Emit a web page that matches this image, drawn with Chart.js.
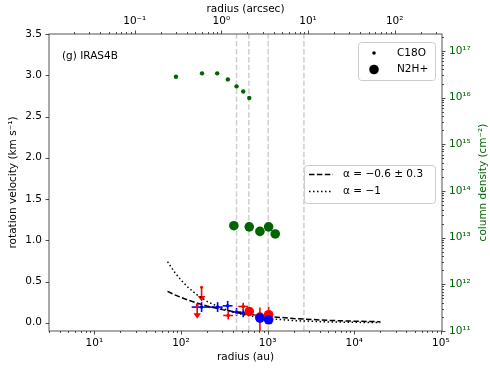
<!DOCTYPE html>
<html><head><meta charset="utf-8">
<script src="https://cdn.jsdelivr.net/npm/chart.js@4/dist/chart.umd.min.js"></script>
<style>html,body{margin:0;padding:0;background:#fff;}#wrap{width:490px;height:368px;position:relative;}</style>
</head><body><div id="wrap"><canvas id="c" width="490" height="368"></canvas></div>
<script>
// ---------- data ----------
const AU_PER_ARCSEC = 293;
// model curves (alpha = -0.6 dashed, alpha = -1 dotted)
const fitR = [70, 85, 100, 120, 150, 200, 300, 500, 700, 1000, 2000, 5000, 10000, 20000];
const fitDashedV = [0.38, 0.338, 0.307, 0.275, 0.241, 0.202, 0.159, 0.117, 0.0954, 0.077, 0.051, 0.0293, 0.0193, 0.0128];
const fitDottedV = [0.74, 0.609, 0.518, 0.432, 0.345, 0.259, 0.173, 0.104, 0.074, 0.052, 0.026, 0.0104, 0.0052, 0.0026];
// C18O rotation velocity, blue side
const c18oBlueR = [173, 265, 346, 438, 523];
const c18oBlueV = [0.19, 0.19, 0.205, 0.13, 0.117];
const c18oBlueRLo = [133, 232, 303, 384, 459];
const c18oBlueRHi = [240, 302, 394, 499, 596];
const c18oBlueVErr = [0.06, 0.06, 0.06, 0.05, 0.05];
// C18O rotation velocity, red side
const c18oRedR = [351, 523];
const c18oRedV = [0.088, 0.197];
const c18oRedRLo = [308, 459];
const c18oRedRHi = [400, 596];
const c18oRedVErr = [0.05, 0.045];
// C18O red side upper limits
const c18oRedLimR = [154, 173];
const c18oRedLimV = [0.218, 0.43];
const c18oRedLimTip = [0.048, 0.258];
// N2H+ rotation velocity
const n2hRedR = [614, 815, 1028];
const n2hRedV = [0.137, 0.069, 0.097];
const n2hRedVLo = [0.115, -0.1, 0.0];
const n2hRedVHi = [0.16, 0.186, 0.197];
const n2hBlueR = [815, 1028];
const n2hBlueV = [0.057, 0.036];
// column densities
const c18oColR = [87.6, 175, 262, 348, 438, 523, 614];
const c18oColN = [2.8e16, 3.3e16, 3.3e16, 2.45e16, 1.74e16, 1.35e16, 9.8e15];
const n2hColR = [408, 614, 815, 1028, 1225];
const n2hColN = [1.8e13, 1.7e13, 1.36e13, 1.7e13, 1.2e13];
// vertical reference radii
const refR = [438, 608, 1016, 2625];
// ticks
const xTickVals = [10, 100, 1000, 10000, 100000];
const xTickLabels = ['10\u00B9', '10\u00B2', '10\u00B3', '10\u2074', '10\u2075'];
const topTickVals = [0.1, 1, 10, 100];
const topTickLabels = ['10\u207B\u00B9', '10\u2070', '10\u00B9', '10\u00B2'];
const yTickVals = [0, 0.5, 1, 1.5, 2, 2.5, 3, 3.5];
const yTickLabels = ['0.0', '0.5', '1.0', '1.5', '2.0', '2.5', '3.0', '3.5'];
const y2TickVals = [1e11, 1e12, 1e13, 1e14, 1e15, 1e16, 1e17];
const y2TickLabels = ['10\u00B9\u00B9', '10\u00B9\u00B2', '10\u00B9\u00B3', '10\u00B9\u2074', '10\u00B9\u2075', '10\u00B9\u2076', '10\u00B9\u2077'];

const X_MIN = 3, X_MAX = 1.03e5, Y_MIN = -0.1, Y_MAX = 3.5, Y2_MIN = 1e11, Y2_MAX = 2.3e17;
const FONT = 'DejaVu Sans';
const FS = 10.5;
const GREEN = '#006400';

const pts = (xs, ys) => xs.map((x, i) => ({x: x, y: ys[i]}));

const datasets = [
  {label: 'n2hBlue', data: pts(n2hBlueR, n2hBlueV), yAxisID: 'y', pointRadius: 4.8, backgroundColor: 'blue', borderColor: 'blue', borderWidth: 0},
  {label: 'n2hRed', data: pts(n2hRedR, n2hRedV), yAxisID: 'y', pointRadius: 4.8, backgroundColor: 'red', borderColor: 'red', borderWidth: 0},
  {label: 'c18oBlue', data: pts(c18oBlueR, c18oBlueV), yAxisID: 'y', pointRadius: 1.8, backgroundColor: 'blue', borderColor: 'blue', borderWidth: 0},
  {label: 'c18oRed', data: pts(c18oRedR, c18oRedV), yAxisID: 'y', pointRadius: 1.8, backgroundColor: 'red', borderColor: 'red', borderWidth: 0},
  {label: 'c18oRedLim', data: pts(c18oRedLimR, c18oRedLimV), yAxisID: 'y', pointRadius: 1.5, backgroundColor: 'red', borderColor: 'red', borderWidth: 0},
  {label: 'n2hCol', data: pts(n2hColR, n2hColN), yAxisID: 'y2', pointRadius: 4.8, backgroundColor: GREEN, borderColor: GREEN, borderWidth: 0},
  {label: 'c18oCol', data: pts(c18oColR, c18oColN), yAxisID: 'y2', pointRadius: 2.2, backgroundColor: GREEN, borderColor: GREEN, borderWidth: 0},
  {label: 'fitDashed', data: pts(fitR, fitDashedV), yAxisID: 'y', showLine: true, pointRadius: 0, borderColor: '#000', borderWidth: 1.5, borderDash: [5.5, 2.4], fill: false},
  {label: 'fitDotted', data: pts(fitR, fitDottedV), yAxisID: 'y', showLine: true, pointRadius: 0, borderColor: '#000', borderWidth: 1.5, borderDash: [1.5, 2.5], fill: false},
];
refR.forEach(r => datasets.push({label: 'ref', data: [{x: r, y: Y_MIN}, {x: r, y: Y_MAX}], yAxisID: 'y', showLine: true, pointRadius: 0, borderColor: '#cfcfcf', borderWidth: 1.5, borderDash: [5.5, 2.4]}));

function minorLog(min, max) {
  const out = [];
  for (let k = Math.floor(Math.log10(min)); k <= Math.ceil(Math.log10(max)); k++) {
    for (let m = 2; m <= 9; m++) { const v = m * Math.pow(10, k); if (v >= min && v <= max) out.push(v); }
  }
  return out;
}
function setTicks(vals) { return s => { s.ticks = vals.map(v => ({value: v})); }; }

const deco = {
  id: 'deco',
  beforeDatasetsDraw(chart) {
    const ctx = chart.ctx, a = chart.chartArea, X = chart.scales.x, Y = chart.scales.y;
    ctx.save();
    ctx.beginPath(); ctx.rect(a.left, a.top, a.right - a.left, a.bottom - a.top); ctx.clip();
    ctx.lineWidth = 1.6;
    const seg = (x1, y1, x2, y2) => { ctx.beginPath(); ctx.moveTo(x1, y1); ctx.lineTo(x2, y2); ctx.stroke(); };
    // blue C18O
    ctx.strokeStyle = 'blue';
    c18oBlueR.forEach((r, i) => {
      const px = X.getPixelForValue(r), py = Y.getPixelForValue(c18oBlueV[i]);
      seg(X.getPixelForValue(c18oBlueRLo[i]), py, X.getPixelForValue(c18oBlueRHi[i]), py);
      seg(px, Y.getPixelForValue(c18oBlueV[i] - c18oBlueVErr[i]), px, Y.getPixelForValue(c18oBlueV[i] + c18oBlueVErr[i]));
    });
    // red C18O
    ctx.strokeStyle = 'red'; ctx.fillStyle = 'red';
    c18oRedR.forEach((r, i) => {
      const px = X.getPixelForValue(r), py = Y.getPixelForValue(c18oRedV[i]);
      seg(X.getPixelForValue(c18oRedRLo[i]), py, X.getPixelForValue(c18oRedRHi[i]), py);
      seg(px, Y.getPixelForValue(c18oRedV[i] - c18oRedVErr[i]), px, Y.getPixelForValue(c18oRedV[i] + c18oRedVErr[i]));
    });
    c18oRedLimR.forEach((r, i) => {
      const px = X.getPixelForValue(r), py = Y.getPixelForValue(c18oRedLimV[i]), pt = Y.getPixelForValue(c18oRedLimTip[i]);
      seg(px, py, px, pt - 4);
      ctx.beginPath(); ctx.moveTo(px - 3.8, pt - 5.5); ctx.lineTo(px + 3.8, pt - 5.5); ctx.lineTo(px, pt); ctx.closePath(); ctx.fill();
    });
    n2hRedR.forEach((r, i) => {
      const px = X.getPixelForValue(r);
      seg(px, Y.getPixelForValue(n2hRedVLo[i]), px, Y.getPixelForValue(n2hRedVHi[i]));
    });
    ctx.restore();
  },
  afterDraw(chart) {
    const ctx = chart.ctx, a = chart.chartArea, s = chart.scales;
    ctx.save();
    // spines
    ctx.strokeStyle = '#555'; ctx.lineWidth = 1;
    ctx.strokeRect(a.left, a.top, a.right - a.left, a.bottom - a.top);
    // tick marks
    ctx.strokeStyle = '#222'; ctx.lineWidth = 0.8;
    const hT = (sc, vals, len, yEdge, dir) => vals.forEach(v => { const p = Math.round(sc.getPixelForValue(v)) + 0.5; ctx.beginPath(); ctx.moveTo(p, yEdge); ctx.lineTo(p, yEdge + dir * len); ctx.stroke(); });
    const vT = (sc, vals, len, xEdge, dir) => vals.forEach(v => { const p = Math.round(sc.getPixelForValue(v)) + 0.5; ctx.beginPath(); ctx.moveTo(xEdge, p); ctx.lineTo(xEdge + dir * len, p); ctx.stroke(); });
    hT(s.x, xTickVals, 3.5, a.bottom, 1); hT(s.x, minorLog(X_MIN, X_MAX), 2, a.bottom, 1);
    hT(s.xTop, topTickVals, 3.5, a.top, -1); hT(s.xTop, minorLog(X_MIN / AU_PER_ARCSEC, X_MAX / AU_PER_ARCSEC), 2, a.top, -1);
    vT(s.y, yTickVals, 3.5, a.left, -1);
    vT(s.y2, y2TickVals, 3.5, a.right, 1); vT(s.y2, minorLog(Y2_MIN, Y2_MAX), 2, a.right, 1);
    // axis titles
    ctx.font = FS + 'px "' + FONT + '"'; ctx.textAlign = 'center'; ctx.textBaseline = 'middle'; ctx.fillStyle = '#000';
    const cx = (a.left + a.right) / 2, cy = (a.top + a.bottom) / 2;
    ctx.fillText('radius (au)', cx, 357);
    ctx.fillText('radius (arcsec)', cx, 9);
    ctx.save(); ctx.translate(13, cy); ctx.rotate(-Math.PI / 2); ctx.fillText('rotation velocity (km s\u207B\u00B9)', 0, 0); ctx.restore();
    ctx.save(); ctx.fillStyle = GREEN; ctx.translate(483, cy); ctx.rotate(-Math.PI / 2); ctx.fillText('column density (cm\u207B\u00B2)', 0, 0); ctx.restore();
    // panel label
    ctx.textAlign = 'left'; ctx.fillText('(g) IRAS4B', 62, 56);
    // legends
    const box = (x, y, w, h) => {
      ctx.save(); ctx.fillStyle = 'rgba(255,255,255,0.8)'; ctx.strokeStyle = '#cccccc'; ctx.lineWidth = 1;
      ctx.beginPath(); ctx.roundRect(x + 0.5, y + 0.5, w, h, 3); ctx.fill(); ctx.stroke(); ctx.restore();
    };
    box(358, 42, 77, 38);
    ctx.fillStyle = '#000';
    ctx.beginPath(); ctx.arc(374, 53, 1.8, 0, 2 * Math.PI); ctx.fill();
    ctx.beginPath(); ctx.arc(374, 69.5, 4.8, 0, 2 * Math.PI); ctx.fill();
    ctx.fillText('C18O', 397, 53);
    ctx.fillText('N2H+', 397, 69.5);
    box(304, 165, 131, 38);
    ctx.strokeStyle = '#000'; ctx.lineWidth = 1.5;
    ctx.setLineDash([5.5, 2.4]); ctx.beginPath(); ctx.moveTo(309, 174.5); ctx.lineTo(333, 174.5); ctx.stroke();
    ctx.setLineDash([1.5, 2.5]); ctx.beginPath(); ctx.moveTo(309, 191.5); ctx.lineTo(333, 191.5); ctx.stroke();
    ctx.setLineDash([]);
    ctx.fillText('\u03B1 = \u22120.6 \u00B1 0.3', 343, 174.5);
    ctx.fillText('\u03B1 = \u22121', 343, 191.5);
    ctx.restore();
  }
};

const tickFont = {family: FONT, size: FS};
new Chart(document.getElementById('c'), {
  type: 'scatter',
  data: {datasets: datasets},
  options: {
    responsive: false, animation: false, devicePixelRatio: 1,
    layout: {padding: 0},
    plugins: {legend: {display: false}, tooltip: {enabled: false}},
    scales: {
      x: {type: 'logarithmic', position: 'bottom', min: X_MIN, max: X_MAX, afterBuildTicks: setTicks(xTickVals),
          ticks: {callback: (v, i) => xTickLabels[i], autoSkip: false, maxRotation: 0, padding: 6, color: '#000', font: tickFont},
          grid: {display: false, drawTicks: false}, border: {display: false}, afterFit: sc => { sc.height = 37; }},
      xTop: {type: 'logarithmic', position: 'top', min: X_MIN / AU_PER_ARCSEC, max: X_MAX / AU_PER_ARCSEC, afterBuildTicks: setTicks(topTickVals),
          ticks: {callback: (v, i) => topTickLabels[i], autoSkip: false, maxRotation: 0, padding: 6, color: '#000', font: tickFont},
          grid: {display: false, drawTicks: false}, border: {display: false}, afterFit: sc => { sc.height = 34; }},
      y: {type: 'linear', position: 'left', min: Y_MIN, max: Y_MAX, afterBuildTicks: setTicks(yTickVals),
          ticks: {callback: (v, i) => yTickLabels[i], autoSkip: false, padding: 7, color: '#000', font: tickFont},
          grid: {display: false, drawTicks: false}, border: {display: false}, afterFit: sc => { sc.width = 49; }},
      y2: {type: 'logarithmic', position: 'right', min: Y2_MIN, max: Y2_MAX, afterBuildTicks: setTicks(y2TickVals),
          ticks: {callback: (v, i) => y2TickLabels[i], autoSkip: false, padding: 7, color: GREEN, font: tickFont},
          grid: {display: false, drawTicks: false}, border: {display: false}, afterFit: sc => { sc.width = 48; }}
    }
  },
  plugins: [deco]
});
</script></body></html>
